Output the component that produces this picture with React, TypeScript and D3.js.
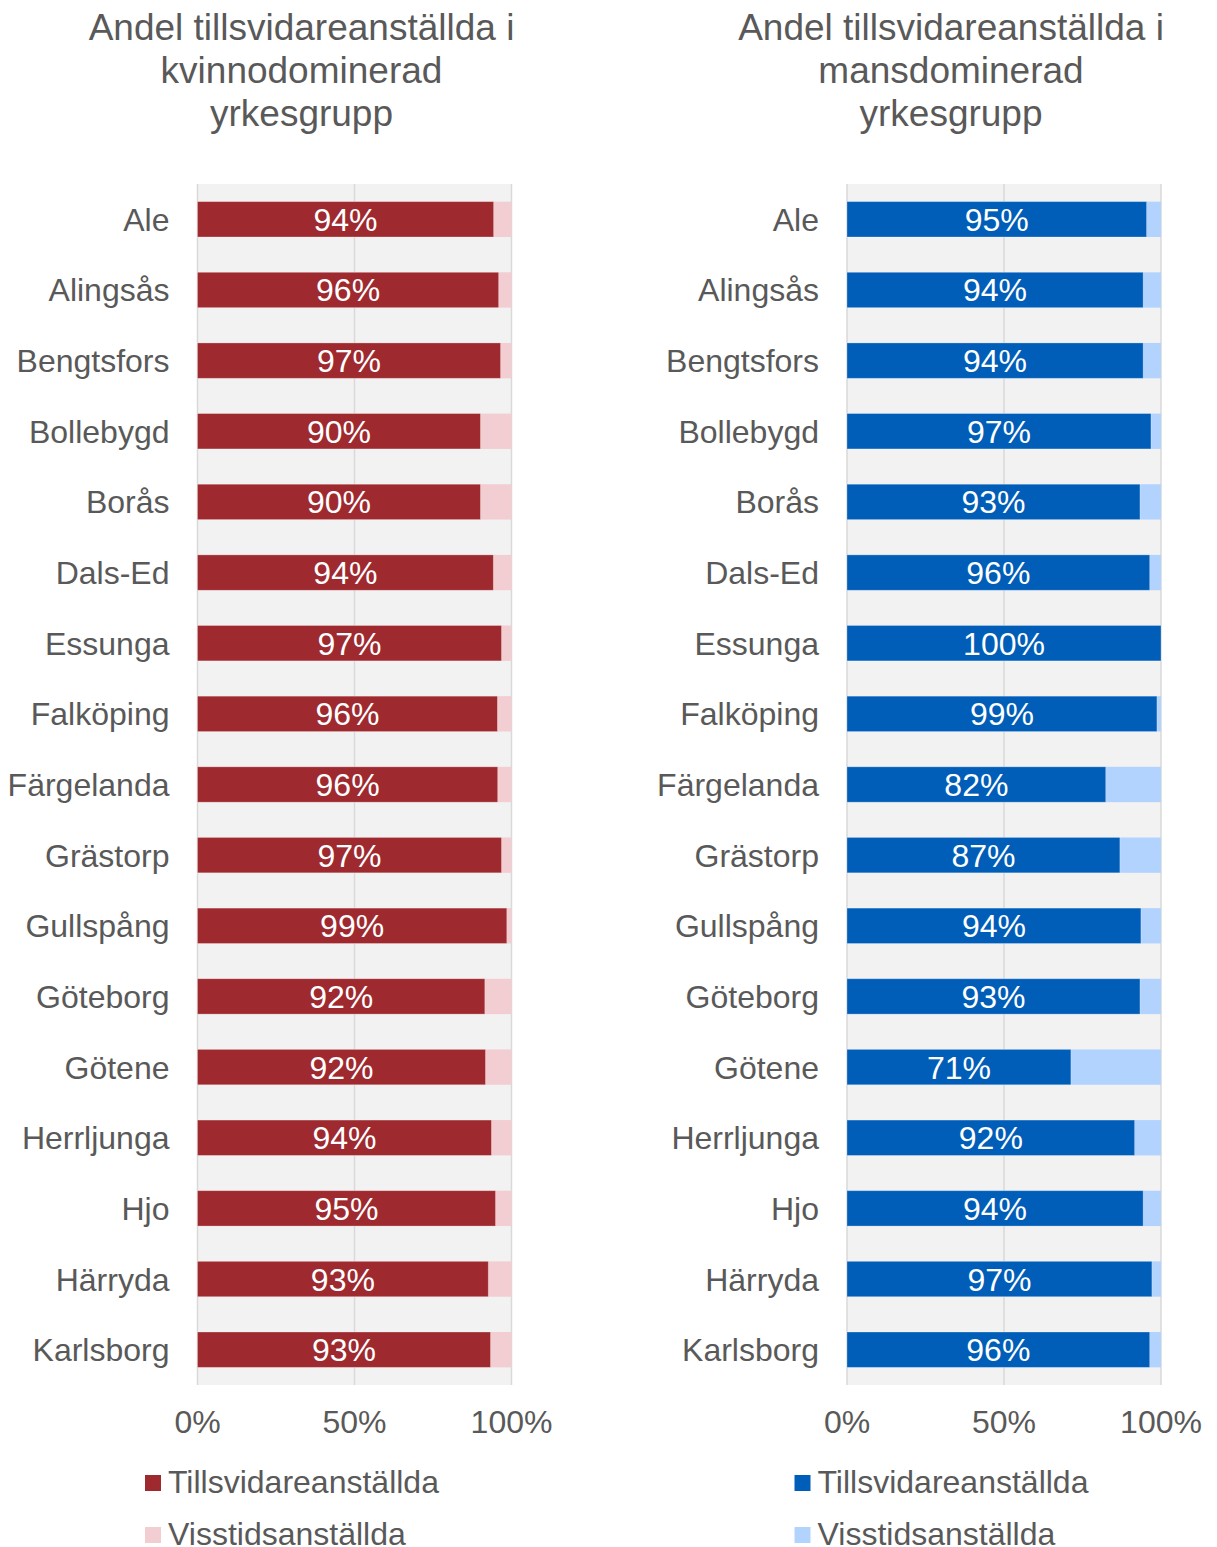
import React from "react"
import * as d3 from "d3"

const municipalities = [
  "Ale", "Alingsås", "Bengtsfors", "Bollebygd", "Borås", "Dals-Ed", "Essunga",
  "Falköping", "Färgelanda", "Grästorp", "Gullspång", "Göteborg", "Götene",
  "Herrljunga", "Hjo", "Härryda", "Karlsborg",
]

// share of permanent employees (%), female dominated occupation group
const womenPermanent = [
  94.3, 95.9, 96.5, 90.1, 90.1, 94.2, 96.8, 95.5, 95.6, 96.8, 98.5, 91.5, 91.7,
  93.6, 94.9, 92.6, 93.3,
]

// share of permanent employees (%), male dominated occupation group
const menPermanent = [
  95.4, 94.3, 94.3, 96.8, 93.3, 96.4, 100, 98.7, 82.4, 86.9, 93.6, 93.3, 71.3,
  91.6, 94.3, 97.1, 96.4,
]

const xTicks = [0, 50, 100]
const seriesNames = ["Tillsvidareanställda", "Visstidsanställda"]

const font = "'Liberation Sans', Arial, sans-serif"
const textColor = "#595959"

interface PanelProps {
  title: string[]
  values: number[]
  left: number
  dark: string
  light: string
}

const Panel = ({ title, values, left, dark, light }: PanelProps) => {
  const width = 314
  const top = 184
  const bottom = 1385

  const x = d3.scaleLinear().domain([0, 100]).range([left, left + width])
  const y = d3
    .scaleBand<string>()
    .domain(municipalities)
    .range([top, bottom])
    .paddingInner(0.5)
    .paddingOuter(0.25)

  const midX = left + width / 2

  return (
    <g>
      {/* title */}
      {title.map((line, i) => (
        <text
          key={line}
          x={midX - 53}
          y={40 + i * 43}
          textAnchor="middle"
          fontSize={37}
          fill={textColor}
        >
          {line}
        </text>
      ))}

      {/* plot background + gridlines */}
      <rect x={left} y={top} width={width} height={bottom - top} fill="#F2F2F2" />
      {xTicks.map((t) => (
        <line
          key={t}
          x1={x(t)}
          x2={x(t)}
          y1={top}
          y2={bottom}
          stroke="#D9D9D9"
          strokeWidth={1.5}
        />
      ))}

      {/* bars */}
      {municipalities.map((m, i) => {
        const v = values[i]
        const by = y(m)!
        const bh = y.bandwidth()
        return (
          <g key={m}>
            <rect x={x(0)} y={by} width={x(100) - x(0)} height={bh} fill={light} />
            <rect
              x={x(0)}
              y={by}
              width={x(v) - x(0)}
              height={bh}
              fill={dark}
              stroke="#ffffff"
              strokeOpacity={0.35}
              strokeWidth={0.75}
            />
            <text
              x={(x(0) + x(v)) / 2}
              y={by + bh / 2 + 11.5}
              textAnchor="middle"
              fontSize={32}
              fill="#ffffff"
            >
              {Math.round(v)}%
            </text>
            <text
              x={left - 28}
              y={by + bh / 2 + 11.5}
              textAnchor="end"
              fontSize={32}
              fill={textColor}
            >
              {m}
            </text>
          </g>
        )
      })}

      {/* x axis labels */}
      {xTicks.map((t) => (
        <text
          key={t}
          x={x(t)}
          y={1433}
          textAnchor="middle"
          fontSize={32}
          fill={textColor}
        >
          {t}%
        </text>
      ))}

      {/* legend */}
      {seriesNames.map((s, i) => (
        <g key={s} transform={`translate(${left - 52.5},${1475 + i * 52})`}>
          <rect x={0} y={0} width={16} height={16} fill={i === 0 ? dark : light} />
          <text x={23} y={18} fontSize={32} fill={textColor}>
            {s}
          </text>
        </g>
      ))}
    </g>
  )
}

const App = () => {
  return (
    <svg
      width={1217}
      height={1547}
      style={{ position: "absolute", left: 0, top: 0, background: "#fff" }}
      fontFamily={font}
    >
      <Panel
        title={["Andel tillsvidareanställda i", "kvinnodominerad", "yrkesgrupp"]}
        values={womenPermanent}
        left={197.5}
        dark="#9E2A2F"
        light="#F2CDD1"
      />
      <Panel
        title={["Andel tillsvidareanställda i", "mansdominerad", "yrkesgrupp"]}
        values={menPermanent}
        left={847}
        dark="#005EB8"
        light="#B3D3FF"
      />
    </svg>
  )
}

export default App
